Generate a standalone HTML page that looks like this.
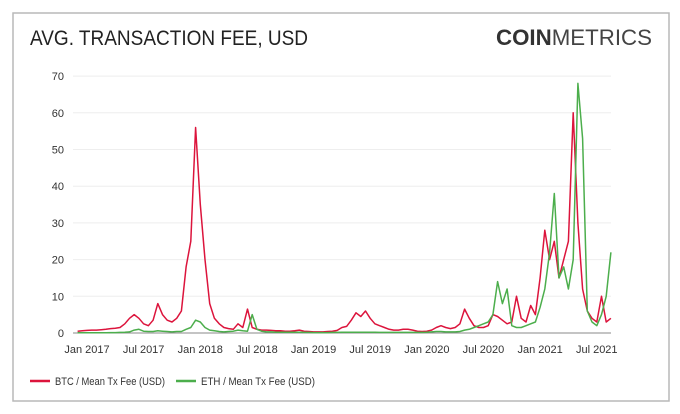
<!DOCTYPE html>
<html><head><meta charset="utf-8"><style>
body{margin:0;background:#fff;font-family:"Liberation Sans",sans-serif}
svg{display:block}
</style></head><body>
<svg id="c" width="680" height="414" xmlns="http://www.w3.org/2000/svg">
<rect x="13" y="13" width="656" height="388" fill="#fff" stroke="#b9b9b9" stroke-width="1.5"/>
<text x="30" y="45" font-size="21" fill="#222" textLength="278" lengthAdjust="spacingAndGlyphs">AVG. TRANSACTION FEE, USD</text>
<text x="496" y="45" font-size="22" fill="#333" textLength="156" lengthAdjust="spacingAndGlyphs"><tspan font-weight="bold">COIN</tspan><tspan font-weight="normal" fill="#444">METRICS</tspan></text>
<g id="grid"></g><g id="ylab"></g><g id="xlab"></g><g id="lines"></g>
<g>
<line x1="30" y1="381" x2="50" y2="381" stroke="#dc143c" stroke-width="2.5"/>
<text x="55" y="385" font-size="11" fill="#333" textLength="110" lengthAdjust="spacingAndGlyphs">BTC / Mean Tx Fee (USD)</text>
<line x1="176" y1="381" x2="196" y2="381" stroke="#4cae4c" stroke-width="2.5"/>
<text x="201" y="385" font-size="11" fill="#333" textLength="114" lengthAdjust="spacingAndGlyphs">ETH / Mean Tx Fee (USD)</text>
</g>
</svg>
<script>
// semi-monthly values starting Dec 2016
const btcValues=[0.5,0.6, 0.7,0.8,0.8,0.9,1.0,1.2,1.3,1.5,2.5,4.0,5.0,4.0,2.5,2.0,3.5,8.0,5.0,3.5,3.0,4.0,6.0,18.0,25.0,56.0,
35.0,20.0,8.0,4.0,2.5,1.5,1.2,1.0,2.5,1.5,6.5,1.5,1.0,0.8,0.8,0.7,0.6,0.6,0.5,0.5,0.6,0.8,0.5,0.4,
0.3,0.3,0.3,0.4,0.5,0.7,1.5,1.8,3.5,5.5,4.5,6.0,4.0,2.5,2.0,1.5,1.0,0.8,0.8,1.0,1.0,0.8,0.5,0.4,
0.5,0.8,1.5,2.0,1.5,1.2,1.5,2.5,6.5,4.0,2.0,1.5,1.5,2.0,5.0,4.5,3.5,2.5,3.0,10.0,4.0,3.0,7.5,5.0,
15.0,28.0,20.0,25.0,15.0,20.0,25.0,60.0,30.0,12.0,6.0,4.0,3.0,10.0,3.0,4.0];
const ethValues=[0.05,0.05, 0.05,0.05,0.06,0.06,0.08,0.1,0.1,0.15,0.2,0.3,0.8,1.0,0.5,0.4,0.4,0.6,0.5,0.4,0.3,0.4,0.4,1.0,1.5,3.5,
3.0,1.5,0.8,0.6,0.4,0.3,0.4,0.5,0.8,0.6,0.5,5.0,1.0,0.5,0.3,0.3,0.2,0.2,0.2,0.2,0.2,0.2,0.15,0.15,
0.1,0.1,0.1,0.1,0.15,0.15,0.2,0.2,0.2,0.2,0.2,0.2,0.2,0.2,0.15,0.15,0.15,0.15,0.15,0.15,0.15,0.15,0.15,0.15,
0.2,0.3,0.4,0.4,0.3,0.3,0.3,0.4,0.8,1.0,1.5,2.0,2.5,3.0,5.0,14.0,8.0,12.0,2.0,1.5,1.5,2.0,2.5,3.0,
7.0,12.0,22.0,38.0,15.0,18.0,12.0,20.0,68.0,53.0,6.0,3.0,2.0,5.0,10.0,22.0];
const yTicks=[0,10,20,30,40,50,60,70];
const xTickLabels=["Jan 2017","Jul 2017","Jan 2018","Jul 2018","Jan 2019","Jul 2019","Jan 2020","Jul 2020","Jan 2021","Jul 2021"];
const NS="http://www.w3.org/2000/svg";
const Y0=333,PER10=36.7,JAN17=87,PM=9.44;
const y=v=>Y0-v/10*PER10;
const xm=m=>JAN17+m*PM;
const xi=i=>xm(-1+i/2);
function mk(t,a,p){const e=document.createElementNS(NS,t);for(const k in a)e.setAttribute(k,a[k]);p.appendChild(e);return e;}
const g=document.getElementById('grid'),yl=document.getElementById('ylab'),xl=document.getElementById('xlab'),ln=document.getElementById('lines');
yTicks.forEach(t=>{
 if(t>0){const l=mk('line',{x1:73,x2:611,y1:y(t),y2:y(t),stroke:'#eee','stroke-width':1},g);
 
 }
 const tx=mk('text',{x:64,y:y(t)+4,'font-size':11,fill:'#333','text-anchor':'end'},yl);tx.textContent=t;
 
 
});
const ax=mk('line',{x1:73,x2:611,y1:Y0,y2:Y0,stroke:'#888','stroke-width':1},g);


xTickLabels.forEach((s,i)=>{const tx=mk('text',{x:xm(i*6),y:353,'font-size':11,fill:'#333','text-anchor':'middle'},xl);tx.textContent=s;
 
 });
function series(vals,col,name){const d=vals.map((v,i)=>(i?'L':'M')+xi(i).toFixed(1)+','+y(v).toFixed(1)).join('');
 const p=mk('path',{d:d,fill:'none',stroke:col,'stroke-width':1.5,'stroke-linejoin':'round'},ln);
 
 }
series(btcValues,'#dc143c','btc-line');
series(ethValues,'#4cae4c','eth-line');
</script>
</body></html>
